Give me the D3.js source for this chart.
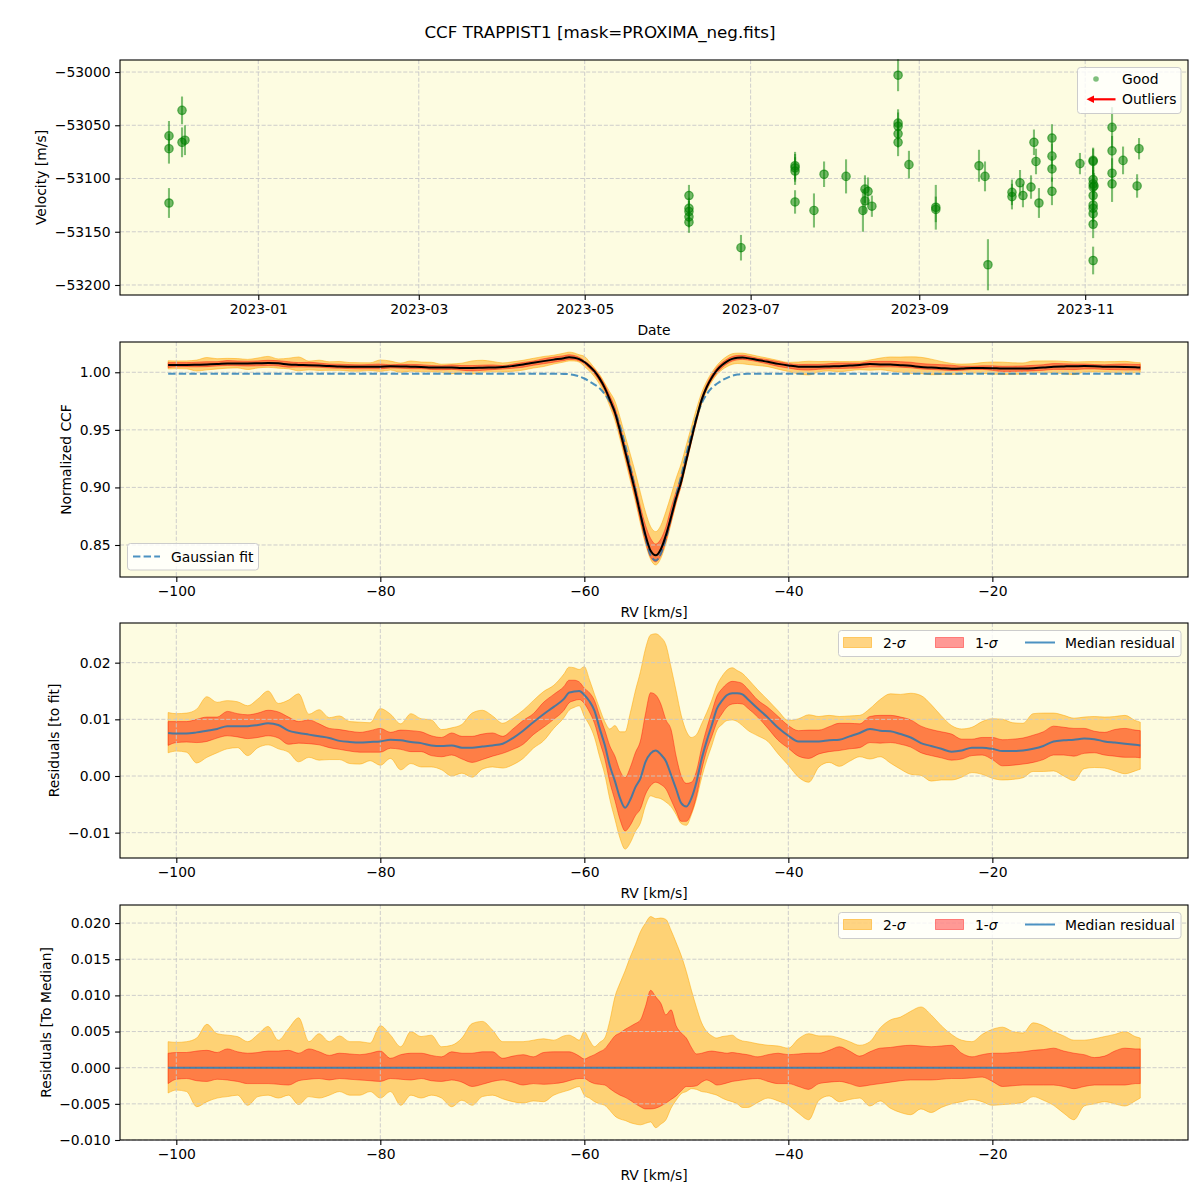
<!DOCTYPE html>
<html><head><meta charset="utf-8">
<script src="https://cdn.jsdelivr.net/npm/d3@7/dist/d3.min.js"></script>
<style>
html,body{margin:0;padding:0;background:#fff;}
text{font-family:"DejaVu Sans",sans-serif;}
</style></head>
<body>
<svg id="chart" width="1200" height="1200" xmlns="http://www.w3.org/2000/svg"></svg>
<script>
// ---------------- DATA ----------------
const chartTitle = "CCF TRAPPIST1 [mask=PROXIMA_neg.fits]";

// Panel 1: RV time series (date, velocity m/s, error m/s)
const obsDates = [
"2022-11-29T04:00Z","2022-11-29T04:00Z","2022-11-29T04:00Z",
"2022-12-03T23:00Z","2022-12-03T23:00Z","2022-12-05T01:00Z",
"2023-06-08T08:00Z","2023-06-08T08:00Z","2023-06-08T08:00Z","2023-06-08T08:00Z","2023-06-08T08:00Z",
"2023-06-27T11:00Z",
"2023-07-17T08:00Z","2023-07-17T08:00Z","2023-07-17T08:00Z","2023-07-17T08:00Z",
"2023-07-24T07:00Z","2023-07-28T00:00Z","2023-08-05T02:00Z",
"2023-08-11T07:00Z","2023-08-12T01:00Z","2023-08-12T01:00Z","2023-08-13T04:00Z","2023-08-14T14:00Z",
"2023-08-24T05:00Z","2023-08-24T05:00Z","2023-08-24T05:00Z","2023-08-24T05:00Z","2023-08-24T05:00Z",
"2023-08-28T05:00Z","2023-09-07T02:00Z","2023-09-07T02:00Z",
"2023-09-22T23:00Z","2023-09-25T04:00Z","2023-09-26T06:00Z",
"2023-10-05T02:00Z","2023-10-05T02:00Z","2023-10-08T01:00Z","2023-10-09T03:00Z","2023-10-12T02:00Z",
"2023-10-13T04:00Z","2023-10-13T22:00Z","2023-10-15T00:00Z",
"2023-10-19T19:00Z","2023-10-19T19:00Z","2023-10-19T19:00Z","2023-10-19T19:00Z",
"2023-10-30T02:00Z",
"2023-11-03T22:00Z","2023-11-03T22:00Z","2023-11-03T22:00Z","2023-11-03T22:00Z","2023-11-03T22:00Z","2023-11-03T22:00Z",
"2023-11-03T22:00Z","2023-11-03T22:00Z","2023-11-03T22:00Z","2023-11-03T22:00Z","2023-11-04T06:00Z","2023-11-03T22:00Z",
"2023-11-10T21:00Z","2023-11-10T21:00Z","2023-11-10T21:00Z","2023-11-10T21:00Z",
"2023-11-14T22:00Z","2023-11-20T02:00Z","2023-11-20T19:00Z"
];
const obsVelocity = [
-53060,-53072,-53123,
-53036,-53066,-53064,
-53116,-53128,-53131,-53136,-53141,
-53165,
-53088,-53090,-53093,-53122,
-53130,-53096,-53098,
-53130,-53110,-53121,-53112,-53126,
-53003,-53048,-53051,-53058,-53066,
-53087,-53127,-53129,
-53088,-53098,-53181,
-53113,-53117,-53104,-53116,-53108,
-53066,-53084,-53123,
-53062,-53079,-53091,-53112,
-53086,
-53083,-53084,-53101,-53105,-53108,-53116,
-53125,-53128,-53133,-53143,-53107,-53177,
-53052,-53074,-53095,-53105,
-53083,-53107,-53072
];
const obsError = [
14,14,14,
13,14,14,
10,10,10,10,10,
12,
13,13,13,11,
16,12,16,
20,13,12,13,10,
15,13,13,13,13,
13,21,12,
15,14,24,
12,12,12,11,11,
12,12,14,
13,12,12,13,
10,
12,12,13,13,13,13,
13,13,13,13,12,13,
19,14,14,17,
13,11,10
];
const dateTicks = ["2023-01-01","2023-03-01","2023-05-01","2023-07-01","2023-09-01","2023-11-01"];
const dateDomain = ["2022-11-11T03:50Z","2023-12-08T19:10Z"];
const velTicks = [-53200,-53150,-53100,-53050,-53000];
const velDomain = [-53209.4,-52988.7];

// Panels 2-4: CCF profile statistics on an RV grid (km/s)
const rvGrid = [-100.8,-100,-99,-98,-97,-96,-95,-94,-93,-92,
-91,-90,-89,-88,-87,-86,-85,-84,-83,-82,
-81,-80,-79,-78,-77,-76,-75,-74,-73,-72,
-71,-70,-69,-68,-67,-66,-65,-64,-63,-62,
-61.5,-61,-60.5,-60,-59.5,-59,-58.5,-58,-57.5,-57,
-56.5,-56,-55.5,-55,-54.5,-54,-53.5,-53,-52.5,-52,
-51.5,-51,-50.5,-50,-49.5,-49,-48.5,-48,-47.5,-47,
-46.5,-46,-45.5,-45,-44.5,
-44,-43,-42,-41,-40,-39,-38,-37,-36,-35,
-34,-33,-32,-31,-30,-29,-28,-27,-26,-25,
-24,-23,-22,-21,-20,-19,-18,-17,-16,-15,
-14,-13,-12,-11,-10,-9,-8,-7,-6,-5.5];

// Gaussian fit of the CCF (normalized)
const fitCcf = [0.9988,0.9988,0.9988,0.9988,0.9988,0.9988,0.9988,0.9988,0.9988,0.9988,
0.9988,0.9988,0.9988,0.9988,0.9988,0.9988,0.9988,0.9988,0.9988,0.9988,
0.9988,0.9988,0.9988,0.9988,0.9988,0.9988,0.9988,0.9988,0.9988,0.9988,
0.9988,0.9988,0.9988,0.9988,0.9988,0.9988,0.9988,0.9988,0.9988,0.9986,
0.9983,0.9977,0.9964,0.9946,0.9921,0.9893,0.9861,0.9810,0.9745,0.9660,
0.9530,0.9370,0.9180,0.8980,0.8770,0.8560,0.8410,0.8365,0.8425,0.8560,
0.8740,0.8930,0.9100,0.9290,0.9460,0.9610,0.9730,0.9810,0.9865,0.9900,
0.9930,0.9952,0.9970,0.9980,0.9985,
0.9987,0.9988,0.9988,0.9988,0.9988,0.9988,0.9988,0.9988,0.9988,0.9988,
0.9988,0.9988,0.9988,0.9988,0.9988,0.9988,0.9988,0.9988,0.9988,0.9988,
0.9988,0.9988,0.9988,0.9988,0.9988,0.9988,0.9988,0.9988,0.9988,0.9988,
0.9988,0.9988,0.9988,0.9988,0.9988,0.9988,0.9988,0.9988,0.9988,0.9988];

// Median residual (CCF median - fit)
const residMedian = [0.0076,0.0075,0.0075,0.0077,0.0080,0.0083,0.0088,0.0088,0.0088,0.0090,
0.0093,0.0090,0.0080,0.0076,0.0073,0.0070,0.0067,0.0062,0.0060,0.0059,
0.0060,0.0061,0.0064,0.0063,0.0060,0.0058,0.0054,0.0053,0.0054,0.0050,
0.0050,0.0052,0.0054,0.0057,0.0067,0.0080,0.0095,0.0109,0.0122,0.0136,
0.0147,0.0149,0.0150,0.0143,0.0132,0.0115,0.0084,0.0055,0.0018,-0.0009,
-0.0039,-0.0056,-0.0042,-0.0020,-0.0004,0.0025,0.0040,0.0045,0.0038,0.0026,
0.0002,-0.0023,-0.0048,-0.0054,-0.0039,-0.0010,0.0030,0.0062,0.0090,0.0119,
0.0133,0.0143,0.0146,0.0146,0.0144,
0.0136,0.0119,0.0103,0.0085,0.0071,0.0061,0.0061,0.0061,0.0063,0.0064,
0.0070,0.0076,0.0083,0.0080,0.0079,0.0074,0.0068,0.0058,0.0053,0.0048,
0.0043,0.0045,0.0050,0.0050,0.0048,0.0044,0.0044,0.0045,0.0048,0.0053,
0.0061,0.0063,0.0064,0.0066,0.0065,0.0061,0.0059,0.0057,0.0055,0.0054];

// Spread around the median (residuals to median): 1-sigma and 2-sigma limits
const sigma1Upper = [0.0020,0.0021,0.0021,0.0023,0.0024,0.0021,0.0026,0.0022,0.0020,0.0021,
0.0023,0.0023,0.0024,0.0020,0.0026,0.0022,0.0017,0.0020,0.0019,0.0018,
0.0020,0.0023,0.0013,0.0018,0.0020,0.0020,0.0017,0.0015,0.0022,0.0020,
0.0020,0.0022,0.0022,0.0013,0.0016,0.0018,0.0015,0.0021,0.0022,0.0022,
0.0022,0.0020,0.0016,0.0012,0.0015,0.0018,0.0022,0.0026,0.0035,0.0044,
0.0048,0.0053,0.0057,0.0061,0.0066,0.0085,0.0107,0.0098,0.0089,0.0073,
0.0080,0.0058,0.0048,0.0041,0.0028,0.0019,0.0020,0.0022,0.0023,0.0022,
0.0021,0.0020,0.0021,0.0020,0.0019,
0.0018,0.0015,0.0018,0.0020,0.0018,0.0019,0.0020,0.0020,0.0024,0.0029,
0.0023,0.0016,0.0022,0.0027,0.0028,0.0030,0.0031,0.0030,0.0029,0.0030,
0.0031,0.0020,0.0015,0.0018,0.0020,0.0020,0.0021,0.0022,0.0024,0.0025,
0.0027,0.0023,0.0020,0.0018,0.0014,0.0016,0.0023,0.0027,0.0026,0.0026];
const sigma1Lower = [-0.0022,-0.0016,-0.0015,-0.0018,-0.0019,-0.0016,-0.0017,-0.0019,-0.0022,-0.0022,
-0.0022,-0.0023,-0.0024,-0.0018,-0.0016,-0.0015,-0.0017,-0.0015,-0.0016,-0.0017,
-0.0018,-0.0019,-0.0015,-0.0016,-0.0017,-0.0015,-0.0018,-0.0019,-0.0017,-0.0020,
-0.0026,-0.0023,-0.0019,-0.0017,-0.0020,-0.0024,-0.0022,-0.0023,-0.0022,-0.0020,
-0.0018,-0.0016,-0.0015,-0.0015,-0.0019,-0.0022,-0.0023,-0.0024,-0.0029,-0.0034,
-0.0038,-0.0041,-0.0045,-0.0050,-0.0054,-0.0057,-0.0057,-0.0056,-0.0053,-0.0049,
-0.0044,-0.0039,-0.0032,-0.0026,-0.0026,-0.0025,-0.0020,-0.0017,-0.0020,-0.0024,
-0.0023,-0.0021,-0.0019,-0.0018,-0.0017,
-0.0016,-0.0015,-0.0019,-0.0022,-0.0022,-0.0026,-0.0030,-0.0022,-0.0020,-0.0019,
-0.0022,-0.0026,-0.0024,-0.0022,-0.0020,-0.0018,-0.0017,-0.0017,-0.0017,-0.0016,
-0.0015,-0.0015,-0.0014,-0.0013,-0.0019,-0.0026,-0.0025,-0.0024,-0.0024,-0.0024,
-0.0024,-0.0026,-0.0029,-0.0026,-0.0024,-0.0024,-0.0024,-0.0024,-0.0022,-0.0022];
const sigma2Upper = [0.0036,0.0035,0.0036,0.0041,0.0060,0.0047,0.0045,0.0043,0.0036,0.0046,
0.0057,0.0038,0.0054,0.0069,0.0036,0.0047,0.0036,0.0044,0.0036,0.0036,
0.0034,0.0058,0.0045,0.0029,0.0050,0.0043,0.0045,0.0029,0.0031,0.0041,
0.0061,0.0064,0.0052,0.0036,0.0036,0.0036,0.0038,0.0040,0.0038,0.0044,
0.0045,0.0042,0.0038,0.0050,0.0038,0.0029,0.0035,0.0041,0.0065,0.0098,
0.0117,0.0134,0.0153,0.0170,0.0188,0.0200,0.0209,0.0206,0.0207,0.0205,
0.0190,0.0173,0.0155,0.0133,0.0107,0.0083,0.0062,0.0050,0.0044,0.0041,
0.0043,0.0044,0.0045,0.0040,0.0037,
0.0036,0.0033,0.0031,0.0030,0.0027,0.0040,0.0047,0.0044,0.0044,0.0041,
0.0036,0.0031,0.0036,0.0055,0.0066,0.0070,0.0078,0.0084,0.0073,0.0058,
0.0046,0.0038,0.0036,0.0046,0.0053,0.0056,0.0050,0.0048,0.0062,0.0058,
0.0050,0.0044,0.0038,0.0038,0.0040,0.0043,0.0046,0.0050,0.0043,0.0041];
const sigma2Lower = [-0.0035,-0.0031,-0.0033,-0.0054,-0.0047,-0.0042,-0.0040,-0.0038,-0.0052,-0.0040,
-0.0038,-0.0042,-0.0038,-0.0051,-0.0040,-0.0042,-0.0038,-0.0033,-0.0038,-0.0038,
-0.0033,-0.0042,-0.0033,-0.0052,-0.0038,-0.0042,-0.0038,-0.0042,-0.0054,-0.0045,
-0.0052,-0.0040,-0.0038,-0.0043,-0.0047,-0.0049,-0.0046,-0.0047,-0.0038,-0.0033,
-0.0031,-0.0028,-0.0026,-0.0038,-0.0042,-0.0047,-0.0050,-0.0052,-0.0059,-0.0067,
-0.0071,-0.0073,-0.0076,-0.0078,-0.0079,-0.0077,-0.0075,-0.0083,-0.0078,-0.0072,
-0.0056,-0.0045,-0.0036,-0.0033,-0.0029,-0.0030,-0.0033,-0.0034,-0.0036,-0.0038,
-0.0042,-0.0045,-0.0047,-0.0050,-0.0055,
-0.0055,-0.0048,-0.0042,-0.0046,-0.0052,-0.0063,-0.0072,-0.0045,-0.0039,-0.0047,
-0.0044,-0.0042,-0.0053,-0.0046,-0.0056,-0.0062,-0.0065,-0.0057,-0.0062,-0.0055,
-0.0050,-0.0047,-0.0044,-0.0047,-0.0052,-0.0051,-0.0050,-0.0048,-0.0040,-0.0045,
-0.0052,-0.0063,-0.0072,-0.0053,-0.0050,-0.0047,-0.0050,-0.0053,-0.0046,-0.0042];

const rvTicks = [-100,-80,-60,-40,-20];
const rvDomain = [-105.52,-0.82];
const ccfTicks = [0.85,0.90,0.95,1.00];
const ccfDomain = [0.8222,1.0263];
const resTicks = [-0.01,0.00,0.01,0.02];
const resDomain = [-0.01447,0.02700];
const medTicks = [-0.010,-0.005,0.000,0.005,0.010,0.015,0.020];
const medDomain = [-0.0100,0.0225];

// ---------------- DRAWING ----------------
const svg = d3.select("#chart");
const FONT = "DejaVu Sans, sans-serif";
const FS = "13.9px";
const X0 = 120, X1 = 1188;
const BG = "#fdfce1";
const GRID = "#c8c8c8";
const ORANGE = "#ffa500", RED = "#ff0000", C0 = "#1f77b4";
const panels = [[60,295],[342,577],[623,858],[905,1140]];

svg.append("rect").attr("width",1200).attr("height",1200).attr("fill","#fff");
svg.append("text").attr("x",600).attr("y",38).attr("text-anchor","middle")
  .attr("font-size","16.7px").attr("font-family",FONT).text(chartTitle);

function background(i){
  const [t,b] = panels[i];
  svg.append("rect").attr("x",X0).attr("y",t).attr("width",X1-X0).attr("height",b-t).attr("fill",BG);
}
function grid(i, xs, xt, ys, yt){
  const [t,b] = panels[i];
  const g = svg.append("g").attr("stroke",GRID).attr("stroke-width",0.9).attr("stroke-dasharray","4.1,1.8");
  xt.forEach(v => g.append("line").attr("x1",xs(v)).attr("x2",xs(v)).attr("y1",t).attr("y2",b));
  yt.forEach(v => g.append("line").attr("x1",X0).attr("x2",X1).attr("y1",ys(v)).attr("y2",ys(v)));
}
function styleAxis(g){
  g.select(".domain").remove();
  g.selectAll(".tick line").attr("stroke","#000").attr("stroke-width",1.1);
  g.selectAll(".tick text").attr("font-family",FONT).attr("font-size",FS).attr("fill","#000");
}
function axes(i, xs, xt, xfmt, ys, yt, yfmt, xlabel, ylabel, ylabelX){
  const [t,b] = panels[i];
  svg.append("rect").attr("x",X0).attr("y",t).attr("width",X1-X0).attr("height",b-t)
    .attr("fill","none").attr("stroke","#000").attr("stroke-width",1.1);
  const gx = svg.append("g").attr("transform",`translate(0,${b})`)
    .call(d3.axisBottom(xs).tickValues(xt).tickFormat(xfmt).tickSize(4.9).tickPadding(4.5));
  styleAxis(gx);
  const gy = svg.append("g").attr("transform",`translate(${X0},0)`)
    .call(d3.axisLeft(ys).tickValues(yt).tickFormat(yfmt).tickSize(4.9).tickPadding(4.5));
  styleAxis(gy);
  svg.append("text").attr("x",(X0+X1)/2).attr("y",b+40).attr("text-anchor","middle")
    .attr("font-family",FONT).attr("font-size",FS).text(xlabel);
  svg.append("text").attr("transform",`translate(${ylabelX},${(t+b)/2}) rotate(-90)`)
    .attr("text-anchor","middle").attr("font-family",FONT).attr("font-size",FS).text(ylabel);
}

// ---- Panel 1 ----
{
  const xs = d3.scaleUtc().domain(dateDomain.map(d=>new Date(d))).range([X0,X1]);
  const ys = d3.scaleLinear().domain(velDomain).range([panels[0][1],panels[0][0]]);
  const xt = dateTicks.map(d=>new Date(d+"T00:00Z"));
  background(0);
  grid(0, xs, xt, ys, velTicks);
  const pts = obsDates.map((d,i)=>({t:new Date(d), v:obsVelocity[i], e:obsError[i]}));
  const g = svg.append("g");
  g.selectAll("line.eb").data(pts).enter().append("line")
    .attr("x1",d=>xs(d.t)).attr("x2",d=>xs(d.t))
    .attr("y1",d=>ys(d.v-d.e)).attr("y2",d=>ys(d.v+d.e))
    .attr("stroke","green").attr("stroke-opacity",0.5).attr("stroke-width",2.1);
  g.selectAll("circle").data(pts).enter().append("circle")
    .attr("cx",d=>xs(d.t)).attr("cy",d=>ys(d.v)).attr("r",4.2)
    .attr("fill","green").attr("fill-opacity",0.55)
    .attr("stroke","green").attr("stroke-opacity",0.6).attr("stroke-width",1.2);
  axes(0, xs, xt, d3.utcFormat("%Y-%m"), ys, velTicks, d3.format("d"), "Date", "Velocity [m/s]", 46);
  // legend
  const lg = svg.append("g");
  lg.append("rect").attr("x",1077.5).attr("y",67.5).attr("width",103.5).attr("height",46).attr("rx",3)
    .attr("fill","#fff").attr("fill-opacity",0.8).attr("stroke","#cccccc");
  lg.append("circle").attr("cx",1096).attr("cy",79).attr("r",2.8).attr("fill","green").attr("fill-opacity",0.5);
  lg.append("text").attr("x",1122).attr("y",84).attr("font-family",FONT).attr("font-size",FS).text("Good");
  lg.append("line").attr("x1",1115.5).attr("x2",1093).attr("y1",99.3).attr("y2",99.3).attr("stroke","red").attr("stroke-width",2.2);
  lg.append("path").attr("d","M1086.5,99.3 L1094,95.5 L1094,103.1 Z").attr("fill","red");
  lg.append("text").attr("x",1122).attr("y",104).attr("font-family",FONT).attr("font-size",FS).text("Outliers");
}

const xrv = d3.scaleLinear().domain(rvDomain).range([X0,X1]);

function bands(ys, base){
  const rows = rvGrid.map((r,i)=>({r, b:base[i], l1:sigma1Lower[i], h1:sigma1Upper[i], l2:sigma2Lower[i], h2:sigma2Upper[i]}));
  const a2 = d3.area().x(d=>xrv(d.r)).y0(d=>ys(d.b+d.l2)).y1(d=>ys(d.b+d.h2)).curve(d3.curveMonotoneX);
  const a1 = d3.area().x(d=>xrv(d.r)).y0(d=>ys(d.b+d.l1)).y1(d=>ys(d.b+d.h1)).curve(d3.curveMonotoneX);
  svg.append("path").datum(rows).attr("d",a2).attr("fill",ORANGE).attr("fill-opacity",0.48)
    .attr("stroke",ORANGE).attr("stroke-opacity",0.5).attr("stroke-width",1);
  svg.append("path").datum(rows).attr("d",a1).attr("fill",RED).attr("fill-opacity",0.4)
    .attr("stroke",RED).attr("stroke-opacity",0.4).attr("stroke-width",1);
}
function sigmaLegend(y0){
  const g = svg.append("g");
  g.append("rect").attr("x",838.5).attr("y",y0+0.5).attr("width",342.5).attr("height",26).attr("rx",3)
    .attr("fill","#fff").attr("fill-opacity",0.8).attr("stroke","#cccccc");
  g.append("rect").attr("x",843.5).attr("y",y0+7.5).attr("width",28).attr("height",10)
    .attr("fill",ORANGE).attr("fill-opacity",0.48).attr("stroke",ORANGE).attr("stroke-opacity",0.5);
  const t1 = g.append("text").attr("x",883).attr("y",y0+17.5).attr("font-family",FONT).attr("font-size",FS);
  t1.append("tspan").text("2-"); t1.append("tspan").attr("font-style","italic").text("σ");
  g.append("rect").attr("x",935.5).attr("y",y0+7.5).attr("width",28).attr("height",10)
    .attr("fill",RED).attr("fill-opacity",0.4).attr("stroke",RED).attr("stroke-opacity",0.4);
  const t2 = g.append("text").attr("x",975).attr("y",y0+17.5).attr("font-family",FONT).attr("font-size",FS);
  t2.append("tspan").text("1-"); t2.append("tspan").attr("font-style","italic").text("σ");
  g.append("line").attr("x1",1025).attr("x2",1055).attr("y1",y0+12.5).attr("y2",y0+12.5)
    .attr("stroke",C0).attr("stroke-opacity",0.8).attr("stroke-width",2);
  g.append("text").attr("x",1065).attr("y",y0+17.5).attr("font-family",FONT).attr("font-size",FS).text("Median residual");
}

// ---- Panel 2 ----
{
  const ys = d3.scaleLinear().domain(ccfDomain).range([panels[1][1],panels[1][0]]);
  background(1);
  const ccfMedian = fitCcf.map((f,i)=>f+residMedian[i]);
  bands(ys, ccfMedian);
  grid(1, xrv, rvTicks, ys, ccfTicks);
  const ln = d3.line().x(d=>xrv(d[0])).y(d=>ys(d[1])).curve(d3.curveMonotoneX);
  svg.append("path").datum(rvGrid.map((r,i)=>[r,fitCcf[i]])).attr("d",ln).attr("fill","none")
    .attr("stroke",C0).attr("stroke-opacity",0.8).attr("stroke-width",2).attr("stroke-dasharray","7.4,3.2");
  svg.append("path").datum(rvGrid.map((r,i)=>[r,ccfMedian[i]])).attr("d",ln).attr("fill","none")
    .attr("stroke","#000").attr("stroke-width",2);
  axes(1, xrv, rvTicks, d3.format("d"), ys, ccfTicks, d3.format(".2f"), "RV [km/s]", "Normalized CCF", 71);
  const lg = svg.append("g");
  lg.append("rect").attr("x",127.5).attr("y",543.5).attr("width",131).attr("height",26.5).attr("rx",3)
    .attr("fill","#fff").attr("fill-opacity",0.8).attr("stroke","#cccccc");
  lg.append("line").attr("x1",133).attr("x2",160).attr("y1",556.5).attr("y2",556.5)
    .attr("stroke",C0).attr("stroke-opacity",0.8).attr("stroke-width",2).attr("stroke-dasharray","7.4,3.2");
  lg.append("text").attr("x",171).attr("y",561.5).attr("font-family",FONT).attr("font-size",FS).text("Gaussian fit");
}

// ---- Panel 3 ----
{
  const ys = d3.scaleLinear().domain(resDomain).range([panels[2][1],panels[2][0]]);
  background(2);
  bands(ys, residMedian);
  grid(2, xrv, rvTicks, ys, resTicks);
  const ln = d3.line().x(d=>xrv(d[0])).y(d=>ys(d[1])).curve(d3.curveMonotoneX);
  svg.append("path").datum(rvGrid.map((r,i)=>[r,residMedian[i]])).attr("d",ln).attr("fill","none")
    .attr("stroke",C0).attr("stroke-opacity",0.8).attr("stroke-width",2);
  axes(2, xrv, rvTicks, d3.format("d"), ys, resTicks, d3.format(".2f"), "RV [km/s]", "Residuals [to fit]", 59);
  sigmaLegend(630);
}

// ---- Panel 4 ----
{
  const ys = d3.scaleLinear().domain(medDomain).range([panels[3][1],panels[3][0]]);
  background(3);
  const zeroBase = residMedian.map(v => v - v);
  bands(ys, zeroBase);
  grid(3, xrv, rvTicks, ys, medTicks);
  const ln = d3.line().x(d=>xrv(d[0])).y(d=>ys(d[1]));
  svg.append("path").datum(rvGrid.map((r,i)=>[r,zeroBase[i]])).attr("d",ln).attr("fill","none")
    .attr("stroke",C0).attr("stroke-opacity",0.8).attr("stroke-width",2);
  axes(3, xrv, rvTicks, d3.format("d"), ys, medTicks, d3.format(".3f"), "RV [km/s]", "Residuals [To Median]", 51);
  sigmaLegend(912);
}
</script>
</body></html>
